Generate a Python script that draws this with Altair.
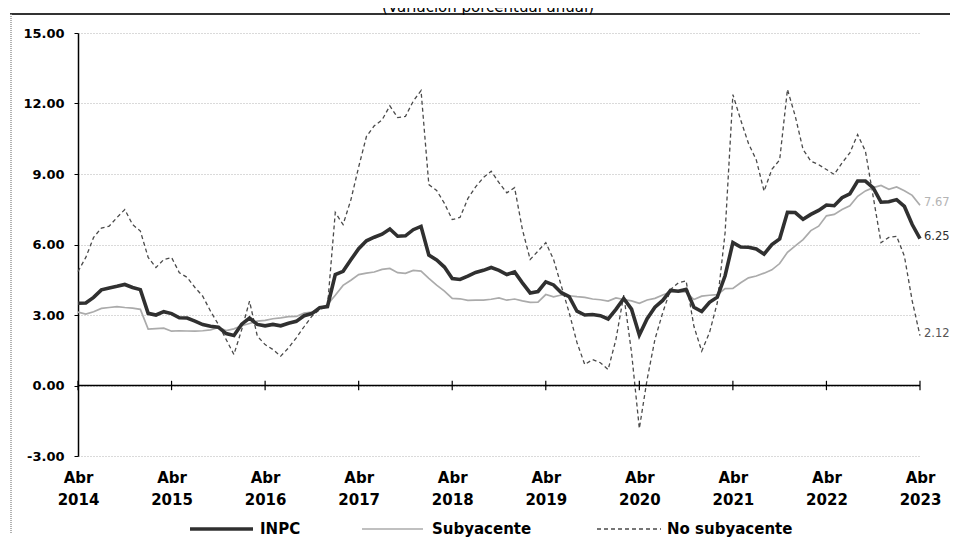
import altair as alt
import pandas as pd

# ---- Data: monthly annual % change, Apr 2014 .. Apr 2023 ----
series = ["INPC", "Subyacente", "No subyacente"]
titulo = "(Variación porcentual anual)"
anio_inicial = 2014
tick_meses = [0, 12, 24, 36, 48, 60, 72, 84, 96, 108]   # every "Abr"
y_ticks = [-3, 0, 3, 6, 9, 12, 15]

inpc = [
    3.50, 3.51, 3.75, 4.07, 4.15, 4.22, 4.30, 4.17, 4.08,
    3.07, 3.00, 3.14, 3.06, 2.88, 2.87, 2.74, 2.59, 2.52, 2.48, 2.21, 2.13,
    2.61, 2.87, 2.60, 2.54, 2.60, 2.54, 2.65, 2.73, 2.97, 3.06, 3.31, 3.36,
    4.72, 4.86, 5.35, 5.82, 6.16, 6.31, 6.44, 6.66, 6.35, 6.37, 6.63, 6.77,
    5.55, 5.34, 5.04, 4.55, 4.51, 4.65, 4.81, 4.90, 5.02, 4.90, 4.72, 4.83,
    4.37, 3.94, 4.00, 4.41, 4.28, 3.95, 3.78, 3.16, 3.00, 3.02, 2.97, 2.83,
    3.24, 3.70, 3.25, 2.15, 2.84, 3.33, 3.62, 4.05, 4.01, 4.09, 3.33, 3.15,
    3.54, 3.76, 4.67, 6.08, 5.89, 5.88, 5.81, 5.59, 6.00, 6.24, 7.37, 7.36,
    7.07, 7.28, 7.45, 7.68, 7.65, 7.99, 8.15, 8.70, 8.70, 8.41, 7.80, 7.82,
    7.91, 7.62, 6.85, 6.25,
]

subyacente = [
    3.12, 3.04, 3.14, 3.28, 3.32, 3.36, 3.32, 3.29, 3.24,
    2.40, 2.42, 2.44, 2.31, 2.33, 2.32, 2.31, 2.33, 2.37, 2.47, 2.34, 2.41,
    2.54, 2.64, 2.74, 2.77, 2.84, 2.88, 2.93, 2.94, 3.08, 3.12, 3.29, 3.44,
    3.84, 4.26, 4.48, 4.72, 4.78, 4.83, 4.94, 4.98, 4.80, 4.77, 4.90, 4.87,
    4.56, 4.27, 4.02, 3.71, 3.69, 3.62, 3.63, 3.63, 3.67, 3.73, 3.63, 3.68,
    3.60, 3.54, 3.55, 3.87, 3.77, 3.85, 3.82, 3.78, 3.75, 3.68, 3.65, 3.59,
    3.73, 3.66, 3.60, 3.50, 3.64, 3.71, 3.85, 3.97, 3.99, 3.98, 3.66, 3.80,
    3.84, 3.87, 4.12, 4.13, 4.37, 4.58, 4.66, 4.78, 4.92, 5.19, 5.67, 5.94,
    6.21, 6.59, 6.78, 7.22, 7.28, 7.49, 7.65, 8.05, 8.28, 8.42, 8.51, 8.35,
    8.45, 8.29, 8.09, 7.67,
]

no_subyacente = [
    4.85, 5.45, 6.30, 6.70, 6.78, 7.15, 7.49, 6.85, 6.57,
    5.45, 5.02, 5.36, 5.45, 4.80, 4.60, 4.17, 3.80, 3.16, 2.60, 1.96, 1.32,
    2.38, 3.59, 2.10, 1.74, 1.53, 1.25, 1.60, 2.03, 2.50, 2.95, 3.23, 3.37,
    7.36, 6.85, 7.90, 9.30, 10.60, 11.05, 11.30, 11.90, 11.40, 11.45, 12.10, 12.55,
    8.55, 8.30, 7.75, 7.06, 7.15, 7.95, 8.45, 8.85, 9.12, 8.63, 8.20, 8.42,
    6.64, 5.36, 5.72, 6.08, 5.36, 4.23, 3.10, 1.83, 0.89, 1.10, 0.97, 0.68,
    1.96, 3.85, 1.40, -1.83, 0.26, 1.96, 3.10, 4.08, 4.37, 4.45, 2.52, 1.46,
    2.25, 3.52, 6.50, 12.38, 11.30, 10.30, 9.60, 8.27, 9.20, 9.60, 12.60, 11.46,
    10.04, 9.55, 9.40, 9.19, 8.98, 9.47, 9.90, 10.68, 9.97, 8.03, 6.08, 6.30,
    6.35, 5.50, 3.60, 2.12,
]

# ---- Styles ----
C_INPC, C_SUB, C_NOSUB = "#303030", "#ababab", "#4a4a4a"
FONT = "DejaVu Sans"

n = len(inpc)
df = pd.DataFrame({
    "mes": list(range(n)),
    "inpc": inpc,
    "sub": subyacente,
    "nosub": no_subyacente,
})

x_scale = alt.Scale(domain=[0, tick_meses[-1]], nice=False, zero=False)
y_scale = alt.Scale(domain=[y_ticks[0], y_ticks[-1]], nice=False, zero=False)

x_axis = alt.Axis(
    values=tick_meses,
    labelExpr=f"['Abr', '' + ({anio_inicial} + datum.value / 12)]",
    title=None, domain=False, ticks=False, grid=False,
    labelFont=FONT, labelFontWeight="bold", labelFontSize=15,
    labelLineHeight=22, labelPadding=14, labelColor="black",
    labelOverlap=False, labelFlush=False,
)
y_axis = alt.Axis(
    values=y_ticks, title=None,
    labelExpr="(datum.value < 0 ? '-' : '') + format(abs(datum.value), '.2f')",
    domain=True, domainColor="black", domainWidth=1.5,
    ticks=True, tickColor="black", tickSize=4, tickWidth=1,
    labelFont=FONT, labelFontWeight="bold", labelFontSize=13,
    labelPadding=10, labelColor="black",
    grid=True, gridColor="#b5b5b5", gridDash=[1, 2], gridWidth=1,
)

def X(field):
    return alt.X(field, type="quantitative", scale=x_scale, axis=x_axis)

def Y(field):
    return alt.Y(field, type="quantitative", scale=y_scale, axis=y_axis)

base = alt.Chart(df)

line_nosub = base.mark_line(color=C_NOSUB, strokeWidth=1.3, strokeDash=[4, 3]).encode(
    x=X("mes"), y=Y("nosub"))
line_sub = base.mark_line(color=C_SUB, strokeWidth=1.7).encode(
    x=X("mes"), y=Y("sub"))
line_inpc = base.mark_line(color=C_INPC, strokeWidth=3.6).encode(
    x=X("mes"), y=Y("inpc"))

# zero line with year ticks
zero_rule = alt.Chart(pd.DataFrame({"v": [0]})).mark_rule(color="black", strokeWidth=1.5).encode(
    y=Y("v"))
ticks_df = pd.DataFrame({"mes": tick_meses, "lo": [-0.2] * len(tick_meses), "hi": [0.2] * len(tick_meses)})
zero_ticks = alt.Chart(ticks_df).mark_rule(color="black", strokeWidth=1.2).encode(
    x=X("mes"), y=Y("lo"), y2="hi:Q")

# end-of-series labels
fin_df = pd.DataFrame({
    "serie": series,
    "mes": [n - 1] * 3,
    "valor": [inpc[-1], subyacente[-1], no_subyacente[-1]],
})
end_labels = alt.Chart(fin_df).mark_text(
    align="left", baseline="middle", dx=4, dy=-2, font=FONT, fontSize=11.5
).encode(
    x=X("mes"), y=Y("valor"),
    text=alt.Text("valor:Q", format=".2f"),
    color=alt.Color("serie:N", scale=alt.Scale(domain=series, range=[C_INPC, "#b4b4b4", "#555555"]), legend=None),
)

# manual legend (pixel positions relative to plot area)
one = pd.DataFrame({"k": [0]})
LY = 496
def leg_line(x1, x2, color, width, dash=None):
    kw = dict(color=color, strokeWidth=width)
    if dash:
        kw["strokeDash"] = dash
    return alt.Chart(one).mark_rule(**kw).encode(x=alt.value(x1), x2=alt.value(x2), y=alt.value(LY))

def leg_text(x, label):
    return alt.Chart(one).mark_text(
        align="left", baseline="middle", font=FONT, fontWeight="bold", fontSize=15,
        color="black", text=label,
    ).encode(x=alt.value(x), y=alt.value(LY))

legend_layers = [
    leg_line(112, 175, C_INPC, 3.6), leg_text(182, series[0]),
    leg_line(284, 345, C_SUB, 1.7), leg_text(354, series[1]),
    leg_line(519, 583, C_NOSUB, 1.3, [4, 3]), leg_text(589, series[2]),
]

# frame + (cut) title at top
frame_top = alt.Chart(one).mark_rule(color="#333333", strokeWidth=2).encode(
    x=alt.value(-68), x2=alt.value(880), y=alt.value(-19))
frame_left = alt.Chart(one).mark_rule(color="#999999", strokeWidth=1.5, strokeDash=[1, 1]).encode(
    x=alt.value(-67), y=alt.value(-19), y2=alt.value(500))
title_txt = alt.Chart(one).mark_text(
    align="center", baseline="alphabetic", font=FONT, fontSize=15, color="black", text=titulo
).encode(x=alt.value(410), y=alt.value(-21))

chart = alt.layer(
    line_nosub, line_sub, line_inpc, zero_rule, zero_ticks, end_labels,
    *legend_layers, frame_top, frame_left, title_txt,
).properties(
    width=842, height=423,
    autosize=alt.AutoSizeParams(type="none"),
    padding={"left": 70, "top": 25, "right": 30, "bottom": 82},
).configure_view(strokeWidth=0)

chart.save("out.html", embed_options={"renderer": "svg", "actions": False})
